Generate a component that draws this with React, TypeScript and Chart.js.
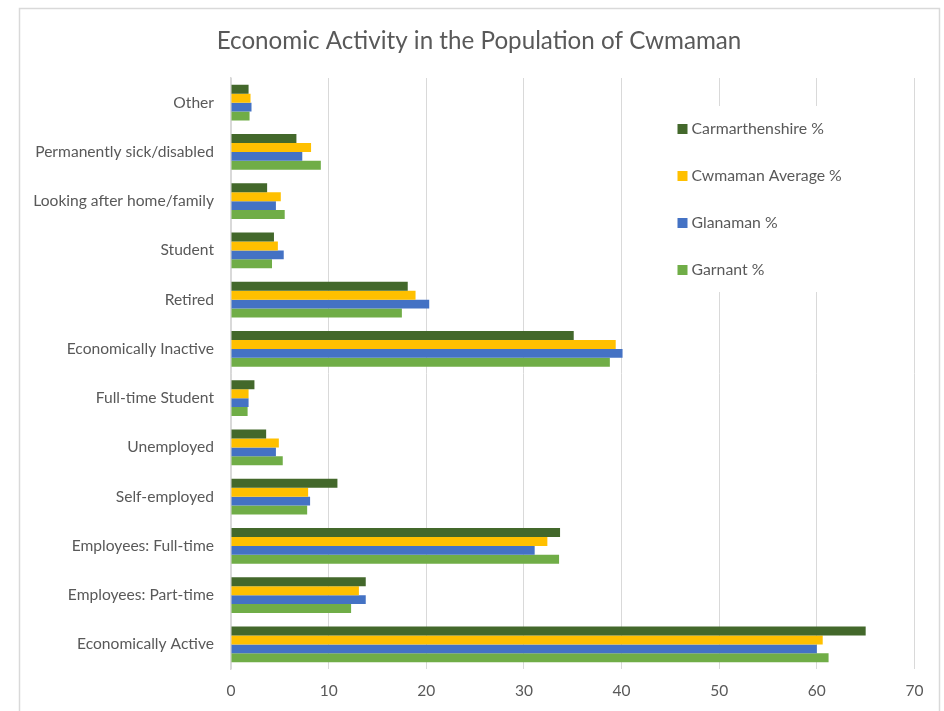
import React, { useEffect, useRef } from "react";
import { Chart, registerables } from "chart.js";

Chart.register(...registerables);

const chartTitle = "Economic Activity in the Population of Cwmaman";
const categories = [
  "Other",
  "Permanently sick/disabled",
  "Looking after home/family",
  "Student",
  "Retired",
  "Economically Inactive",
  "Full-time Student",
  "Unemployed",
  "Self-employed",
  "Employees: Full-time",
  "Employees: Part-time",
  "Economically Active",
];
const seriesNames = ["Carmarthenshire %", "Cwmaman Average %", "Glanaman %", "Garnant %"];
const carmarthenshire = [1.8, 6.7, 3.7, 4.4, 18.1, 35.1, 2.4, 3.6, 10.9, 33.7, 13.8, 65.0];
const cwmamanAverage = [2.0, 8.2, 5.1, 4.8, 18.9, 39.4, 1.8, 4.9, 7.9, 32.4, 13.1, 60.6];
const glanaman = [2.1, 7.3, 4.6, 5.4, 20.3, 40.1, 1.8, 4.6, 8.1, 31.1, 13.8, 60.0];
const garnant = [1.9, 9.2, 5.5, 4.2, 17.5, 38.8, 1.7, 5.3, 7.8, 33.6, 12.3, 61.2];
const xMin = 0;
const xMax = 70;
const xStep = 10;

const colors = ["#43682B", "#FFC000", "#4472C4", "#70AD47"];
const TEXT = "#595959";
const GRID = "#d9d9d9";
const FONT = "Lato, 'Open Sans', sans-serif";

const framePlugin = {
  id: "frame",
  beforeDraw(chart: any) {
    const { ctx, width, height } = chart;
    ctx.save();
    ctx.fillStyle = "#ffffff";
    ctx.fillRect(0, 0, width, height);
    ctx.strokeStyle = GRID;
    ctx.lineWidth = 1.5;
    ctx.strokeRect(19.5, 8.5, 920, height + 20);
    ctx.fillStyle = TEXT;
    ctx.font = `24.2px ${FONT}`;
    ctx.textAlign = "center";
    ctx.textBaseline = "middle";
    ctx.fillText(chartTitle, 479, 41);
    ctx.restore();
  },
};

const legendPlugin = {
  id: "insideLegend",
  afterDatasetsDraw(chart: any) {
    const { ctx, chartArea } = chart;
    const x0 = chartArea.right - 237;
    const y0 = chartArea.top + 28;
    ctx.save();
    ctx.fillStyle = "#ffffff";
    ctx.fillRect(x0 - 30, y0, 250, 186);
    ctx.font = `15.8px ${FONT}`;
    ctx.textBaseline = "middle";
    ctx.textAlign = "left";
    chart.data.datasets.forEach((ds: any, i: number) => {
      const cy = y0 + 23 + i * 47;
      ctx.fillStyle = ds.backgroundColor;
      ctx.fillRect(x0, cy - 5, 10, 10);
      ctx.fillStyle = TEXT;
      ctx.fillText(ds.label, x0 + 14, cy);
    });
    ctx.restore();
  },
};

export default function App() {
  const ref = useRef<HTMLCanvasElement | null>(null);
  useEffect(() => {
    if (!ref.current) return;
    const series = [carmarthenshire, cwmamanAverage, glanaman, garnant];
    const chart = new Chart(ref.current, {
      type: "bar",
      data: {
        labels: categories,
        datasets: series.map((d, i) => ({
          label: seriesNames[i],
          data: d,
          backgroundColor: colors[i],
          borderWidth: 0,
          barPercentage: 1,
          categoryPercentage: 0.725,
        })),
      },
      options: {
        indexAxis: "y",
        animation: false,
        responsive: false,
        devicePixelRatio: 1,
        layout: { padding: { left: 0, right: 29.5, top: 78, bottom: 0 } },
        plugins: {
          legend: { display: false },
          title: { display: false },
          tooltip: { enabled: false },
        },
        scales: {
          x: {
            min: xMin,
            max: xMax,
            ticks: { stepSize: xStep, color: TEXT, font: { family: FONT, size: 15.5 }, padding: 13 },
            grid: { color: GRID, lineWidth: 1, drawTicks: false, tickLength: 0 },
            border: { display: false },
            afterFit: (s: any) => {
              s.height = 42;
            },
          },
          y: {
            ticks: { color: TEXT, font: { family: FONT, size: 15.6 }, padding: 17, autoSkip: false },
            grid: { display: false, drawTicks: false, tickLength: 0 },
            border: { display: true, color: GRID, width: 1.5 },
            afterFit: (s: any) => {
              s.width = 231;
            },
          },
        },
      },
      plugins: [framePlugin, legendPlugin],
    });
    return () => chart.destroy();
  }, []);
  return (
    <div style={{ position: "fixed", left: 0, top: 0, width: 944, height: 711 }}>
      <canvas ref={ref} width={944} height={711} style={{ display: "block" }} />
    </div>
  );
}
